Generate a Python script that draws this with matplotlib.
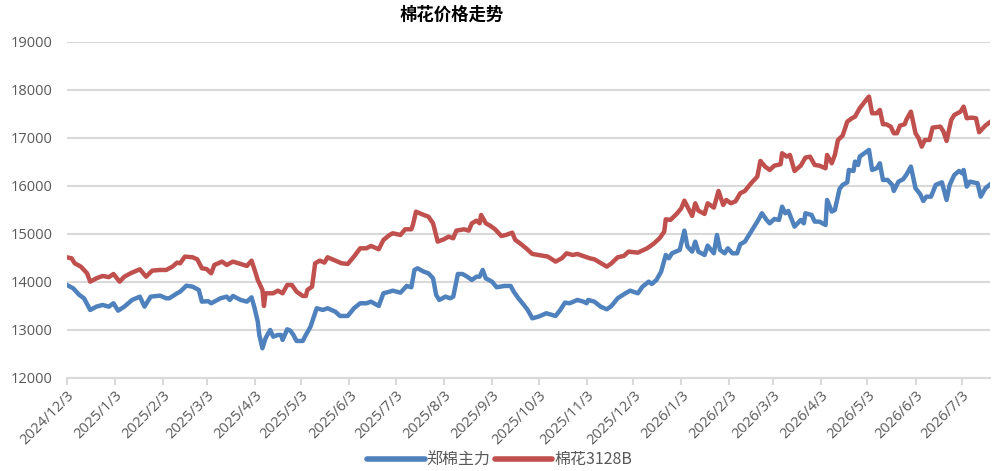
import datetime as dt
import matplotlib
matplotlib.use("Agg")
import matplotlib.pyplot as plt
import matplotlib.dates as mdates
from matplotlib.ticker import FixedLocator, FuncFormatter

plt.rcParams['font.family'] = ['Noto Sans CJK SC', 'DejaVu Sans']

start_date = dt.date(2024, 12, 3)

title = "棉花价格走势"
series_names = ["郑棉主力", "棉花3128B"]

# 郑棉主力: day offsets from start_date and prices
zc_days = [0, 4, 8, 11, 15, 19, 23, 27, 30, 33, 37, 42, 47, 50, 54, 60, 64, 66, 71, 73,
           77, 81, 85, 87, 91, 93, 99, 103, 105, 107, 112, 116, 119, 121, 123, 124, 126, 128,
           131, 133, 136, 138, 139, 142, 144, 146, 148, 152, 154, 157, 161, 165, 168, 173,
           176, 181, 185, 189, 193, 196, 201, 204, 208, 210, 215, 219, 222, 224, 226, 230,
           233, 236, 238, 240, 244, 247, 249, 252, 255, 258, 261, 264, 266, 268, 270, 274,
           277, 282, 286, 288, 291, 294, 297, 300, 304, 309, 315, 318, 321, 324, 329, 333,
           335, 336, 340, 344, 348, 351, 355, 360, 363, 368, 371, 375, 377, 380, 383, 386,
           388, 390, 395, 398, 400, 403, 405, 407, 411, 413, 417, 419, 421, 424, 426, 429,
           432, 434, 437, 441, 445, 448, 451, 453, 456, 459, 461, 463, 465, 469, 473, 475,
           476, 480, 482, 485, 489, 490, 493, 495, 498, 500, 503, 504, 507, 508, 510, 511,
           514, 517, 519, 522, 524, 526, 529, 532, 533, 536, 539, 541, 544, 547, 550, 552,
           554, 557, 560, 564, 567, 569, 572, 575, 577, 578, 580, 582, 587, 589, 592, 596]
zc_price = [13937, 13868, 13729, 13660, 13417, 13486, 13521, 13486, 13556, 13402, 13486, 13625,
            13694, 13486, 13694, 13715, 13660, 13660, 13764, 13798, 13923, 13902, 13833, 13590,
            13600, 13556, 13660, 13694, 13625, 13708, 13625, 13590, 13680, 13452, 13173, 12896,
            12618, 12827, 13000, 12860, 12896, 12896, 12792, 13014, 12986, 12896, 12771, 12771,
            12896, 13069, 13452, 13417, 13452, 13382, 13292, 13292, 13452, 13556, 13556, 13590,
            13500, 13764, 13798, 13819, 13777, 13917, 13889, 14250, 14285, 14215, 14180, 14076,
            13729, 13625, 13694, 13660, 13694, 14166, 14166, 14110, 14042, 14110, 14110, 14250,
            14076, 14006, 13889, 13917, 13917, 13798, 13660, 13542, 13417, 13243, 13278, 13348,
            13292, 13417, 13569, 13556, 13625, 13590, 13556, 13625, 13590, 13486, 13431, 13500,
            13660, 13764, 13819, 13764, 13902, 14006, 13958, 14042, 14215, 14562, 14493, 14597,
            14667, 15069, 14736, 14632, 14840, 14632, 14562, 14757, 14597, 14979, 14667, 14597,
            14701, 14597, 14597, 14785, 14840, 15048, 15257, 15431, 15292, 15222, 15312, 15292,
            15569, 15431, 15479, 15153, 15292, 15222, 15431, 15396, 15257, 15257, 15187, 15708,
            15465, 15500, 15937, 16021, 16076, 16333, 16312, 16507, 16437, 16611, 16681, 16750,
            16333, 16368, 16472, 16125, 16125, 16021, 15896, 16090, 16140, 16229, 16403, 15951,
            15827, 15687, 15777, 15777, 16021, 16076, 15708, 16021, 16229, 16312, 16264, 16333,
            15986, 16090, 16056, 15777, 15951, 16056]

# 棉花3128B: day offsets from start_date and prices
mh_days = [0, 3, 5, 9, 13, 15, 19, 23, 27, 30, 34, 37, 41, 47, 51, 55, 60, 64, 68, 71, 73,
           76, 81, 84, 87, 90, 93, 95, 100, 103, 107, 112, 116, 119, 121, 123, 126, 127, 128,
           133, 136, 139, 142, 145, 148, 152, 154, 155, 158, 160, 163, 166, 168, 173, 177,
           181, 185, 189, 193, 196, 201, 204, 208, 210, 215, 218, 222, 223, 225, 230, 233,
           236, 239, 243, 246, 249, 251, 256, 259, 261, 264, 266, 267, 270, 273, 276, 280,
           283, 287, 289, 292, 296, 300, 304, 310, 315, 319, 322, 326, 329, 334, 337, 340,
           345, 348, 351, 355, 359, 362, 368, 374, 378, 382, 385, 386, 389, 393, 396, 398,
           401, 403, 405, 407, 411, 413, 417, 420, 423, 425, 428, 431, 434, 437, 441, 445,
           447, 450, 453, 456, 460, 461, 464, 466, 469, 473, 476, 479, 482, 485, 489, 490,
           493, 495, 497, 500, 503, 506, 508, 511, 516, 517, 519, 522, 524, 526, 528, 531,
           533, 535, 537, 540, 541, 544, 547, 549, 551, 553, 556, 558, 563, 565, 567, 570,
           572, 576, 578, 580, 583, 586, 588, 592, 596]
mh_price = [14514, 14493, 14389, 14319, 14180, 14006, 14076, 14125, 14100, 14166, 14006, 14110,
            14180, 14264, 14110, 14236, 14250, 14250, 14319, 14403, 14389, 14528, 14514, 14472,
            14285, 14270, 14180, 14354, 14424, 14354, 14424, 14375, 14333, 14444, 14250, 14042,
            13833, 13500, 13764, 13764, 13819, 13764, 13937, 13937, 13798, 13708, 13708, 13833,
            13902, 14389, 14444, 14403, 14514, 14444, 14389, 14375, 14528, 14701, 14701, 14750,
            14681, 14875, 14979, 15014, 14979, 15097, 15097, 15187, 15465, 15396, 15361, 15222,
            14840, 14889, 14944, 14910, 15069, 15097, 15069, 15222, 15277, 15222, 15396, 15222,
            15167, 15097, 14958, 14979, 15027, 14875, 14806, 14701, 14583, 14562, 14528, 14424,
            14493, 14597, 14562, 14583, 14528, 14493, 14472, 14375, 14319, 14389, 14514, 14542,
            14632, 14611, 14701, 14792, 14910, 15048, 15306, 15292, 15417, 15535, 15694, 15500,
            15375, 15639, 15486, 15417, 15639, 15548, 15896, 15604, 15708, 15639, 15681, 15848,
            15896, 16056, 16194, 16521, 16403, 16333, 16423, 16451, 16681, 16611, 16646, 16312,
            16423, 16590, 16611, 16437, 16423, 16368, 16646, 16472, 16646, 16958, 17048, 17340,
            17410, 17444, 17618, 17826, 17861, 17514, 17514, 17583, 17285, 17285, 17236, 17097,
            17097, 17257, 17285, 17375, 17548, 17097, 16993, 16819, 16958, 16958, 17215, 17236,
            17132, 16937, 17375, 17479, 17548, 17652, 17410, 17423, 17410, 17118, 17257, 17354]

y_ticks = [12000, 13000, 14000, 15000, 16000, 17000, 18000, 19000]
x_tick_dates = [dt.date(2024, 12, 3)] + [dt.date(2025, m, 3) for m in range(1, 13)] + \
               [dt.date(2026, m, 3) for m in range(1, 8)]
end_days = 595

colors = ["#4f81bd", "#c0504d"]
grey_text = "#595959"
grid_col = "#d9d9d9"

zc_dates = [start_date + dt.timedelta(days=d) for d in zc_days]
mh_dates = [start_date + dt.timedelta(days=d) for d in mh_days]

fig = plt.figure(figsize=(9.99, 4.71), dpi=100)
ax = fig.add_axes([0.067, 0.1975, 0.924, 0.7135])

ax.plot(zc_dates, zc_price, color=colors[0], lw=3.2, label=series_names[0],
        solid_joinstyle='round', solid_capstyle='round')
ax.plot(mh_dates, mh_price, color=colors[1], lw=3.2, label=series_names[1],
        solid_joinstyle='round', solid_capstyle='round')

ax.set_ylim(12000, 19000)
ax.set_yticks(y_ticks)
ax.set_xlim(start_date, start_date + dt.timedelta(days=end_days))

ax.xaxis.set_major_locator(FixedLocator([mdates.date2num(d) for d in x_tick_dates]))
def fmt(x, pos):
    d = mdates.num2date(x)
    return f"{d.year}/{d.month}/{d.day}"
ax.xaxis.set_major_formatter(FuncFormatter(fmt))

for lab in ax.get_xticklabels():
    lab.set_rotation(45)
    lab.set_ha('right')
    lab.set_rotation_mode('anchor')

ax.tick_params(axis='x', colors=grid_col, length=5, width=1.5, direction='out',
               labelcolor=grey_text, labelsize=10.5, pad=2)
ax.tick_params(axis='y', length=0, labelcolor=grey_text, labelsize=10.5, pad=10)
for lab in ax.get_xticklabels() + ax.get_yticklabels():
    lab.set_family(['Open Sans', 'DejaVu Sans'])

ax.grid(axis='y', color=grid_col, lw=1.5)
ax.set_axisbelow(True)
for s in ['top', 'right', 'left']:
    ax.spines[s].set_visible(False)
ax.spines['bottom'].set_color(grid_col)
ax.spines['bottom'].set_linewidth(1.5)

fig.text(0.452, 0.968, title, ha='center', va='center', fontsize=12.5,
         fontweight='bold', color='#000000')

leg = fig.legend(loc='center', bbox_to_anchor=(0.5, 0.024), ncol=2, frameon=False,
                 fontsize=11.5, handlelength=3.6, handletextpad=0.1, columnspacing=0.3,
                 borderaxespad=0)
for t in leg.get_texts():
    t.set_color(grey_text)
for h in leg.legend_handles:
    h.set_linewidth(4)

fig.savefig("out.png", dpi=100)
